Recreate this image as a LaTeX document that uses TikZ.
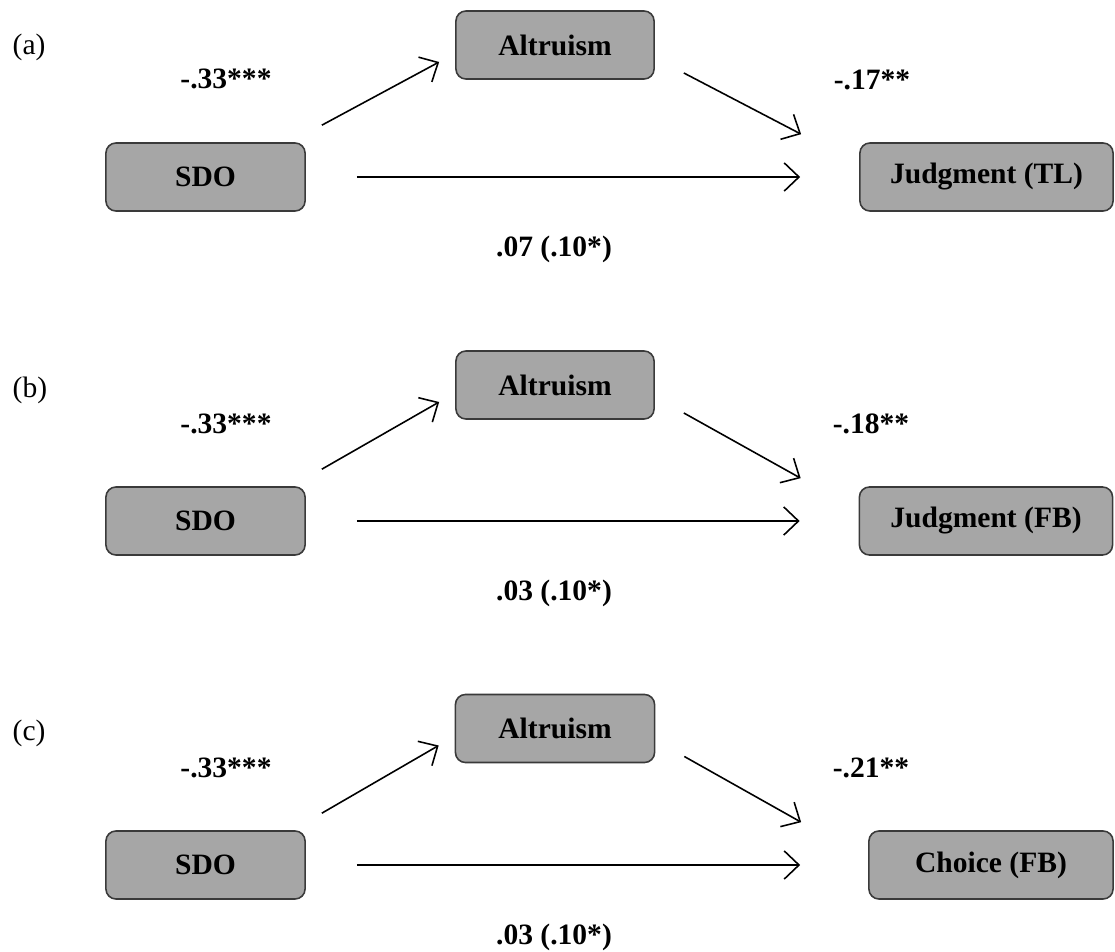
\documentclass[tikz,border=0pt]{standalone}
\usepackage{fontspec}
\setmainfont{Liberation Serif}
\usetikzlibrary{arrows.meta}
\definecolor{boxfill}{HTML}{A6A6A6}
\definecolor{boxline}{HTML}{3A3A3A}
\tikzset{
  varbox/.style={draw=boxline, fill=boxfill, line width=0.45pt, rounded corners=0.1cm,
    minimum height=0.68cm, inner sep=0pt, font=\fontsize{8.4}{10}\selectfont\bfseries},
  coef/.style={font=\fontsize{8.4}{10}\selectfont\bfseries, inner sep=0pt},
  panellab/.style={font=\fontsize{8.4}{10}\selectfont, inner sep=0pt, anchor=west},
  arr/.style={line width=0.45pt, -{Straight Barb[length=4.2pt,width=8pt,line width=0.45pt]}}
}
\begin{document}
\begin{tikzpicture}[x=0.01cm, y=-0.01cm]
\useasboundingbox (0,0) rectangle (1115,952);
% ---------- panel (a)
\node[panellab] (la) at (12,47) {(a)};
\node[varbox, minimum width=1.99cm] (sdoA) at (205.5,177) {SDO};
\node[varbox, minimum width=1.98cm] (altA) at (555,45) {Altruism};
\node[varbox, minimum width=2.53cm] (outA) at (986.5,177) {Judgment (TL)};
\draw[arr] ([shift={(16,-17)}]sdoA.north east) -- ([shift={(-16,17)}]altA.west);
\draw[arr] ([shift={(29,28)}]altA.east) -- ([shift={(-58,-8)}]outA.north west);
\draw[arr] ([shift={(51,0)}]sdoA.east) -- ([shift={(-59,0)}]outA.west);
\node[coef] (aA) at (226,79) {-.33***};
\node[coef] (bA) at (872,80) {-.17**};
\node[coef] (cA) at (554,249) {.07 (.10*)};
% ---------- panel (b)
\node[panellab] (lb) at (12,390) {(b)};
\node[varbox, minimum width=1.99cm] (sdoB) at (205.5,521) {SDO};
\node[varbox, minimum width=1.98cm] (altB) at (555,385) {Altruism};
\node[varbox, minimum width=2.53cm] (outB) at (986,521) {Judgment (FB)};
\draw[arr] ([shift={(16,-17)}]sdoB.north east) -- ([shift={(-16,17)}]altB.west);
\draw[arr] ([shift={(29,28)}]altB.east) -- ([shift={(-58,-8)}]outB.north west);
\draw[arr] ([shift={(51,0)}]sdoB.east) -- ([shift={(-59,0)}]outB.west);
\node[coef] (aB) at (226,424) {-.33***};
\node[coef] (bB) at (871,424) {-.18**};
\node[coef] (cB) at (554,593) {.03 (.10*)};
% ---------- panel (c)
\node[panellab] (lc) at (12,733) {(c)};
\node[varbox, minimum width=1.99cm] (sdoC) at (205.5,865) {SDO};
\node[varbox, minimum width=1.99cm] (altC) at (555,728.5) {Altruism};
\node[varbox, minimum width=2.44cm] (outC) at (991,865) {Choice (FB)};
\draw[arr] ([shift={(16,-17)}]sdoC.north east) -- ([shift={(-16,17)}]altC.west);
\draw[arr] ([shift={(29,28)}]altC.east) -- ([shift={(-67,-8)}]outC.north west);
\draw[arr] ([shift={(51,0)}]sdoC.east) -- ([shift={(-68,0)}]outC.west);
\node[coef] (aC) at (226,768) {-.33***};
\node[coef] (bC) at (871,768) {-.21**};
\node[coef] (cC) at (554,937) {.03 (.10*)};
\end{tikzpicture}
\end{document}
